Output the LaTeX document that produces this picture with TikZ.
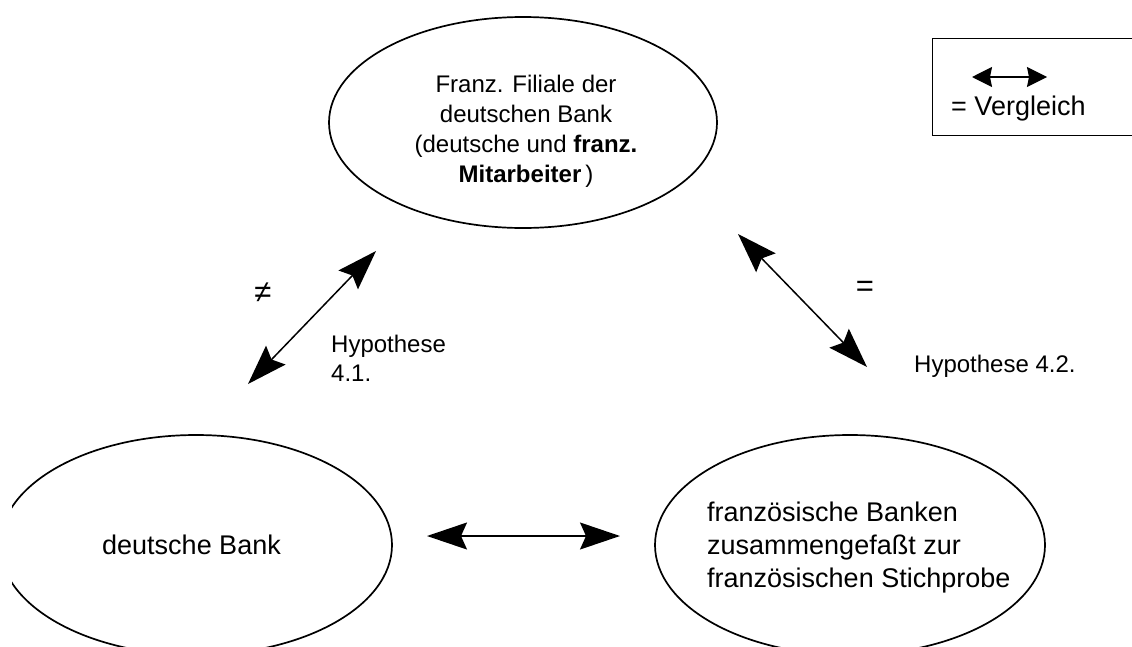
\documentclass[tikz,border=0pt]{standalone}
\usepackage{fontspec}
\setmainfont{Liberation Sans}
\usetikzlibrary{shapes.geometric,arrows.meta}
\begin{document}
\begin{tikzpicture}[x=1pt,y=-1pt,
  bubble/.style={draw, ellipse, line width=1.7pt, inner sep=0pt},
  txtA/.style={inner sep=0pt, font=\fontsize{24pt}{30pt}\selectfont},
  txtB/.style={inner sep=0pt, font=\fontsize{27pt}{33pt}\selectfont},
  symb/.style={inner sep=0pt, font=\fontsize{31pt}{33pt}\selectfont},
  vgl/.style={line width=1.5pt, {Stealth[length=40pt,width=27pt,inset=6pt]}-{Stealth[length=40pt,width=27pt,inset=6pt]}},
  vglsmall/.style={line width=1.3pt, {Stealth[length=20pt,width=20pt,inset=2pt]}-{Stealth[length=20pt,width=20pt,inset=2pt]}}]
\useasboundingbox (0,0) rectangle (1132,646);
\clip (12,0) rectangle (1132,646);
% ellipses
\node[bubble, minimum width=388pt, minimum height=211pt] (filiale) at (523,122.5) {};
\node[bubble, minimum width=392pt, minimum height=220pt] (dbank) at (196,545) {};
\node[bubble, minimum width=390pt, minimum height=220pt] (frbank) at (850,545) {};
% ellipse texts
\node[txtA, anchor=north, align=center] (filialeText) at (526,75)
  {Franz. Filiale der\\deutschen Bank\\(deutsche und \textbf{franz.}\\\textbf{Mitarbeiter}\,)};
\node[txtB, anchor=base west] (dbankText) at (102,554) {deutsche Bank};
\node[txtB, anchor=north west, align=left] (frbankText) at (707,502)
  {französische Banken\\zusammengefaßt zur\\französischen Stichprobe};
% legend
\node[draw, line width=1.4pt, inner sep=0pt, minimum width=230pt, minimum height=97pt, anchor=north west] (legend) at (932,38) {};
\coordinate (lgA) at (972,77);
\coordinate (lgB) at (1047,77);
\draw[vglsmall] (lgA) -- (lgB);
\node[txtB, anchor=base west] (lgText) at (951,115) {= Vergleich};
% comparison arrows
\coordinate (a1s) at (248,384);
\coordinate (a1e) at (376,251);
\draw[vgl] (a1s) -- (a1e);
\coordinate (a2s) at (738,234);
\coordinate (a2e) at (867,367);
\draw[vgl] (a2s) -- (a2e);
\coordinate (a3s) at (427,536);
\coordinate (a3e) at (620,536);
\draw[vgl] (a3s) -- (a3e);
% labels
\node[symb] (neq) at (263,293) {≠};
\node[symb] (eq) at (865,289) {=};
\node[inner sep=0pt, anchor=north west, align=left, font=\fontsize{24pt}{29pt}\selectfont] (h41) at (331,334.8) {Hypothese\\4.1.};
\node[txtA, anchor=base west] (h42) at (914,372) {Hypothese 4.2.};
\end{tikzpicture}
\end{document}
